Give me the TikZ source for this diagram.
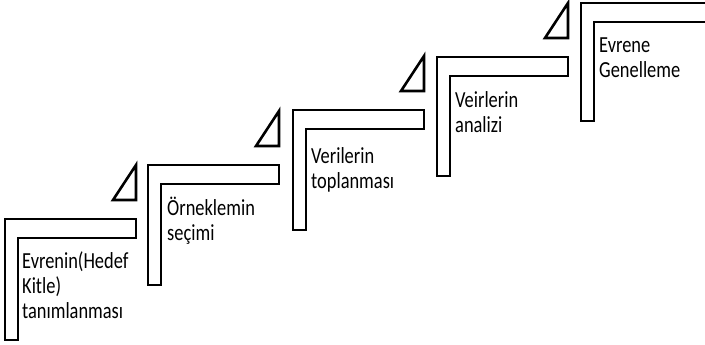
\documentclass[tikz,border=0pt]{standalone}
\usepackage{fontspec}
\newfontfamily\stepfont{Carlito}[FakeStretch=0.8]
\usepackage{tikz}
\usetikzlibrary{positioning}
\tikzset{
  stair/.style   = {draw, line width=2.6pt, line join=miter, fill=white},
  wedge/.style   = {draw, line width=2.6pt, line join=miter, fill=white},
  steptext/.style = {font=\stepfont\fontsize{23}{25}\selectfont, align=left,
                     inner sep=0pt, anchor=base west}
}

\begin{document}
\begin{tikzpicture}[x=1pt, y=-1pt]
\useasboundingbox (0,0) rectangle (705,345);

% the stairs, one L shape per step (x of left edge / y of top / y of bottom)
\foreach \x/\y/\b in {5/219/340, 148/165/285, 293/110/230, 437/57/176, 581/3/121}
  \draw[stair] (\x,\y) -- (\x+131,\y) -- (\x+131,\y+19) -- (\x+13,\y+19)
    -- (\x+13,\b) -- (\x,\b) -- cycle;

% small wedges on the end of the first four steps
\foreach \x/\y in {5/219, 148/165, 293/110, 437/57}
  \draw[wedge] (\x+131,\y-19) -- (\x+131,\y-54) -- (\x+108,\y-19) -- cycle;

% labels on the steps (placed at the baseline of their last line)
\node[steptext] (s1) at (22,318) {Evrenin(Hedef\\Kitle)\\tanımlanması};
\node[steptext] (s2) at (167,240) {Örneklemin\\seçimi};
\node[steptext] (s3) at (311,188) {Verilerin\\toplanması};
\node[steptext] (s4) at (455,132) {Veirlerin\\analizi};
\node[steptext] (s5) at (599,78) {Evrene\\Genelleme};
\end{tikzpicture}
\end{document}
